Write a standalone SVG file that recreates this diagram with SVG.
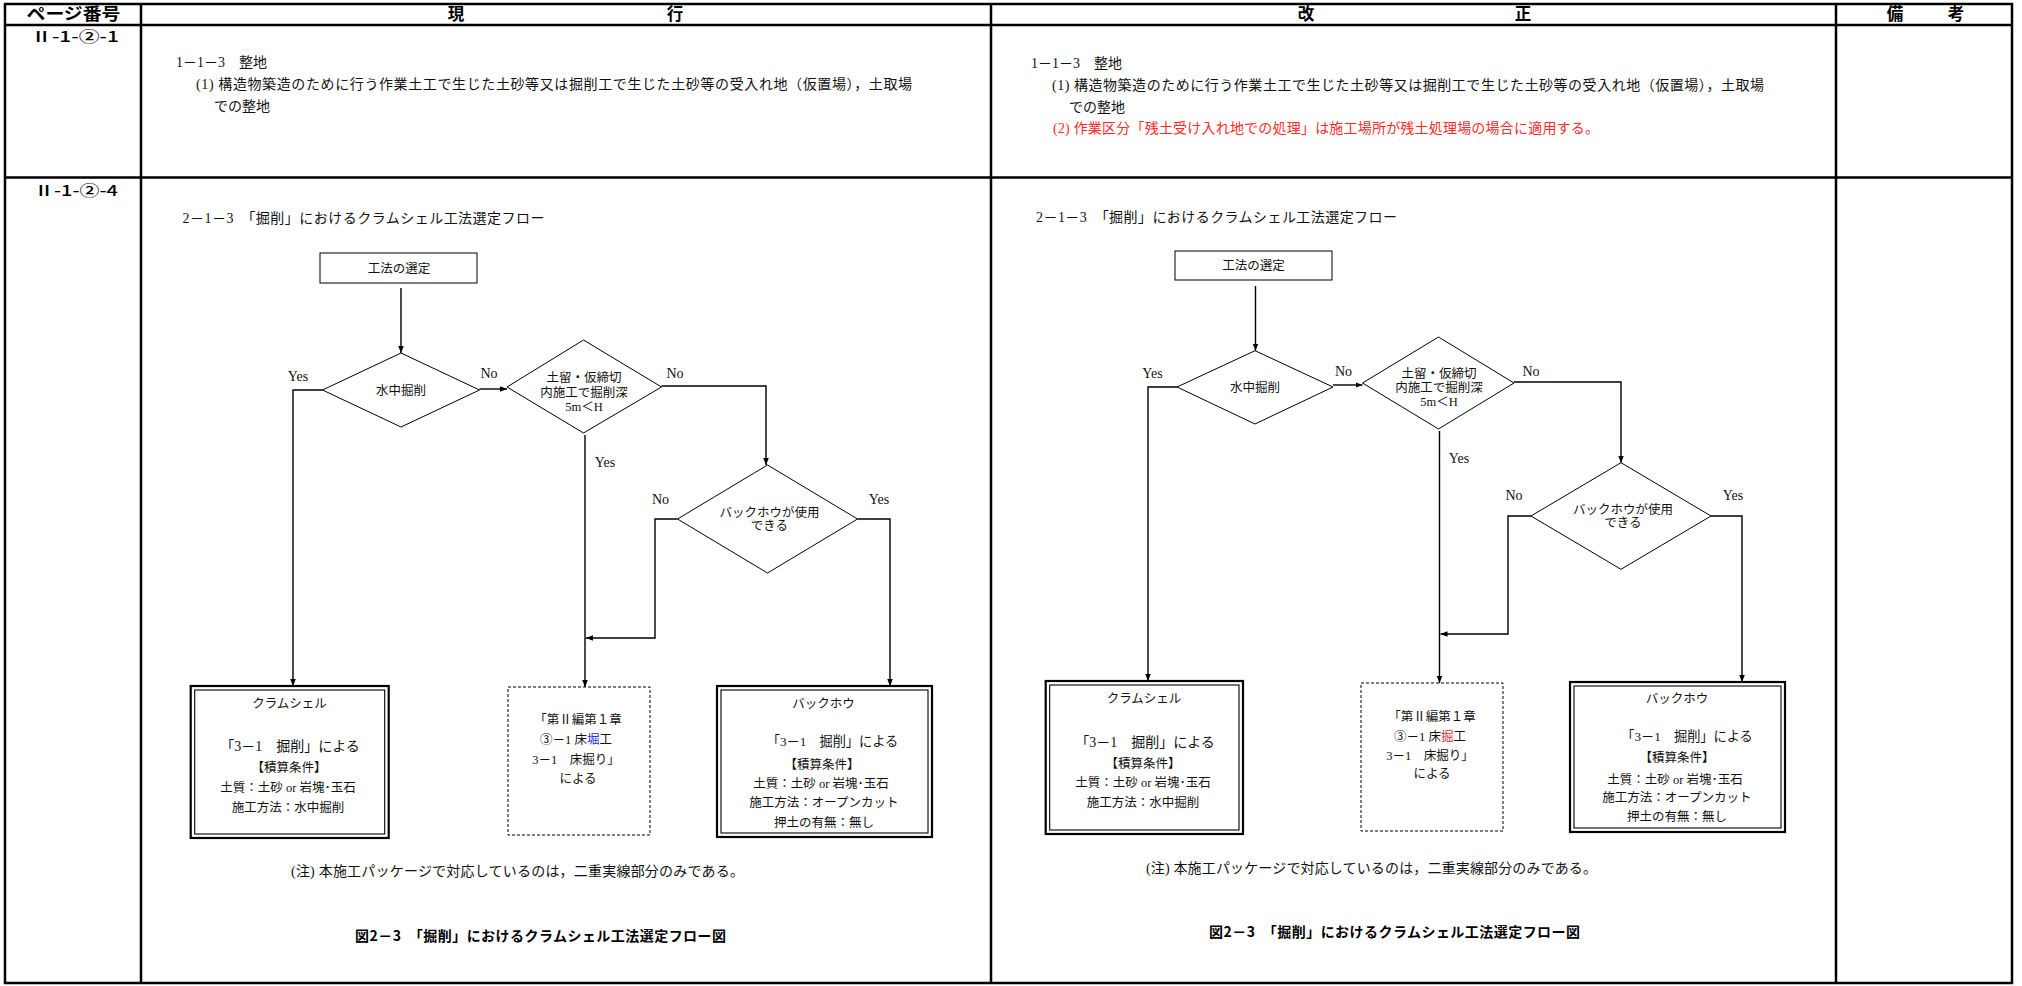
<svg xmlns="http://www.w3.org/2000/svg" width="2022" height="986" viewBox="0 0 2022 986">
<style>
.m{font-family:"Liberation Serif","Noto Sans CJK JP",serif;fill:#111}
.g{font-family:"Noto Sans CJK JP","Liberation Sans",sans-serif;fill:#000}
.hd{font-size:16.5px;font-weight:bold}
.lb{font-size:15px;font-weight:500}
.b{font-size:14px}
.s{font-size:12.5px}
.yn{font-family:"Liberation Serif","Noto Sans CJK JP",serif;font-size:14px;fill:#111}
.c{text-anchor:middle}
.tl{fill:none;stroke:#000;stroke-width:2.5}
.nd{fill:#fff;stroke:#000;stroke-width:1}
.dbo{fill:#fff;stroke:#000;stroke-width:2.2}
.dbi{fill:none;stroke:#000;stroke-width:1.1}
.ds{fill:#fff;stroke:#000;stroke-width:1;stroke-dasharray:3 2}
.cn{fill:none;stroke:#000;stroke-width:1.4}
.red{fill:#ff2a2a}
.blue{fill:#2b2bff}
</style>
<defs>
<marker id="ah" viewBox="0 0 10 10" refX="10" refY="5" markerWidth="7" markerHeight="7" markerUnits="userSpaceOnUse" orient="auto"><path d="M0,1 L10,5 L0,9 z" fill="#000"/></marker>
</defs>
<rect width="2022" height="986" fill="#fff"/>

<g id="table">
<rect class="tl" x="5" y="4" width="2007" height="979"/>
<line class="tl" x1="5" y1="25" x2="2012" y2="25"/>
<line class="tl" x1="5" y1="177.5" x2="2012" y2="177.5"/>
<line class="tl" x1="141" y1="4" x2="141" y2="983"/>
<line class="tl" x1="991" y1="4" x2="991" y2="983"/>
<line class="tl" x1="1836" y1="4" x2="1836" y2="983"/>
</g>

<g id="header">
<text class="g hd c" x="73.5" y="19.5" textLength="94" lengthAdjust="spacingAndGlyphs">ページ番号</text>
<text class="g hd c" y="19.5"><tspan x="456">現</tspan><tspan x="675">行</tspan></text>
<text class="g hd c" y="19.5"><tspan x="1306">改</tspan><tspan x="1523">正</tspan></text>
<text class="g hd c" y="19.5"><tspan x="1895">備</tspan><tspan x="1956">考</tspan></text>
</g>

<g id="row-labels">
<text class="g lb c" x="75" y="42" textLength="88" lengthAdjust="spacingAndGlyphs">Ⅱ-1-②-1</text>
<text class="g lb c" x="76" y="196" textLength="84" lengthAdjust="spacingAndGlyphs">Ⅱ-1-②-4</text>
</g>

<g id="row1-current">
<text class="m b" x="176" y="67">1－1－3　整地</text>
<text class="m b" x="196" y="89" textLength="716" lengthAdjust="spacing">(1) 構造物築造のために行う作業土工で生じた土砂等又は掘削工で生じた土砂等の受入れ地（仮置場），土取場</text>
<text class="m b" x="214" y="111">での整地</text>
</g>

<g id="row1-revised">
<text class="m b" x="1031" y="68">1－1－3　整地</text>
<text class="m b" x="1052" y="90" textLength="712" lengthAdjust="spacing">(1) 構造物築造のために行う作業土工で生じた土砂等又は掘削工で生じた土砂等の受入れ地（仮置場），土取場</text>
<text class="m b" x="1069" y="112">での整地</text>
<text class="m b red" x="1053" y="133" textLength="546" lengthAdjust="spacing">(2) 作業区分「残土受け入れ地での処理」は施工場所が残土処理場の場合に適用する。</text>
</g>

<!-- LEFT FLOW (現行) -->
<g id="L-title"><text class="m b" x="182.5" y="223" textLength="362" lengthAdjust="spacing">2－1－3　「掘削」におけるクラムシェル工法選定フロー</text></g>

<g id="L-start">
<rect class="nd" x="320" y="253" width="157" height="30"/>
<text class="m s c" x="399" y="272.5">工法の選定</text>
</g>
<g id="L-d1">
<polygon class="nd" points="322.5,390 401,353 479.5,390 401,427"/>
<text class="m s c" x="401" y="395">水中掘削</text>
</g>
<g id="L-d2">
<polygon class="nd" points="507,387 583.5,340 661.5,387 583.5,433"/>
<text class="m s c" x="584" y="381.5">土留・仮締切</text>
<text class="m s c" x="584" y="396.5">内施工で掘削深</text>
<text class="m s c" x="584" y="410.5">5m＜H</text>
</g>
<g id="L-d3">
<polygon class="nd" points="677.5,519 767.5,465 857.5,519 767.5,573"/>
<text class="m s c" x="769.5" y="517">バックホウが使用</text>
<text class="m s c" x="769.5" y="529.5">できる</text>
</g>
<g id="L-clamshell">
<rect class="dbo" x="190.7" y="686" width="198" height="152"/>
<rect class="dbi" x="194.7" y="690" width="190" height="144"/>
<text class="m s c" x="289.5" y="707.5">クラムシェル</text>
<text class="m c" x="290" y="751" font-size="14">「3－1　掘削」による</text>
<text class="m s c" x="289" y="771.5">【積算条件】</text>
<text class="m s c" x="288" y="791.5">土質：土砂 or 岩塊･玉石</text>
<text class="m s c" x="288" y="811.5">施工方法：水中掘削</text>
</g>
<g id="L-tokobori">
<rect class="ds" x="508" y="687" width="142" height="148"/>
<text class="m s c" x="578" y="723.5">「第Ⅱ編第１章</text>
<text class="m s c" x="576" y="743.5">③－1 床<tspan class="blue">堀</tspan>工</text>
<text class="m s c" x="576" y="763.5">3－1　床掘り」</text>
<text class="m s c" x="578" y="782.5">による</text>
</g>
<g id="L-backhoe">
<rect class="dbo" x="717" y="686" width="215" height="151"/>
<rect class="dbi" x="721" y="690" width="207" height="143"/>
<text class="m s c" x="823.5" y="707.5">バックホウ</text>
<text class="m c" x="832.5" y="745.5" font-size="13.2">「3－1　掘削」による</text>
<text class="m s c" x="822" y="768.5">【積算条件】</text>
<text class="m s c" x="821" y="787.5">土質：土砂 or 岩塊･玉石</text>
<text class="m s c" x="824" y="806.5">施工方法：オープンカット</text>
<text class="m s c" x="824" y="826.5">押土の有無：無し</text>
</g>
<g id="L-note">
<text class="m b" x="291" y="876" textLength="453" lengthAdjust="spacing">(注) 本施工パッケージで対応しているのは，二重実線部分のみである。</text>
<text class="g b c" x="540.5" y="941" font-weight="bold" textLength="371" lengthAdjust="spacing">図2－3　「掘削」におけるクラムシェル工法選定フロー図</text>
</g>

<!-- RIGHT FLOW (改正) -->
<g id="R-title"><text class="m b" x="1036" y="222" textLength="361" lengthAdjust="spacing">2－1－3　「掘削」におけるクラムシェル工法選定フロー</text></g>

<g id="R-start">
<rect class="nd" x="1175" y="251" width="157" height="29"/>
<text class="m s c" x="1253.5" y="270">工法の選定</text>
</g>
<g id="R-d1">
<polygon class="nd" points="1177,387 1255,350.7 1333,387 1255,424"/>
<text class="m s c" x="1255" y="391.5">水中掘削</text>
</g>
<g id="R-d2">
<polygon class="nd" points="1362.5,383 1438.5,337 1514,383 1438.5,429"/>
<text class="m s c" x="1439" y="377.5">土留・仮締切</text>
<text class="m s c" x="1439" y="391.5">内施工で掘削深</text>
<text class="m s c" x="1439" y="406">5m＜H</text>
</g>
<g id="R-d3">
<polygon class="nd" points="1531,516 1621,462.7 1711,516 1621,569.3"/>
<text class="m s c" x="1623" y="513.5">バックホウが使用</text>
<text class="m s c" x="1623" y="527">できる</text>
</g>
<g id="R-clamshell">
<rect class="dbo" x="1045.7" y="681" width="197.3" height="153"/>
<rect class="dbi" x="1049.7" y="685" width="189.3" height="145"/>
<text class="m s c" x="1144" y="702.5">クラムシェル</text>
<text class="m c" x="1145" y="746.5" font-size="14">「3－1　掘削」による</text>
<text class="m s c" x="1143" y="767.5">【積算条件】</text>
<text class="m s c" x="1143" y="787">土質：土砂 or 岩塊･玉石</text>
<text class="m s c" x="1143" y="807">施工方法：水中掘削</text>
</g>
<g id="R-tokobori">
<rect class="ds" x="1361" y="683" width="142" height="148"/>
<text class="m s c" x="1432" y="720.5">「第Ⅱ編第１章</text>
<text class="m s c" x="1430" y="741">③－1 床<tspan class="red">掘</tspan>工</text>
<text class="m s c" x="1430" y="760">3－1　床掘り」</text>
<text class="m s c" x="1432" y="777.5">による</text>
</g>
<g id="R-backhoe">
<rect class="dbo" x="1570" y="682" width="215" height="150"/>
<rect class="dbi" x="1574" y="686" width="207" height="142"/>
<text class="m s c" x="1677" y="702.5">バックホウ</text>
<text class="m c" x="1687" y="741" font-size="13.2">「3－1　掘削」による</text>
<text class="m s c" x="1677" y="761.5">【積算条件】</text>
<text class="m s c" x="1675" y="783.5">土質：土砂 or 岩塊･玉石</text>
<text class="m s c" x="1677" y="801.5">施工方法：オープンカット</text>
<text class="m s c" x="1677" y="821">押土の有無：無し</text>
</g>
<g id="R-note">
<text class="m b" x="1146" y="873" textLength="451" lengthAdjust="spacing">(注) 本施工パッケージで対応しているのは，二重実線部分のみである。</text>
<text class="g b c" x="1394.5" y="937" font-weight="bold" textLength="371" lengthAdjust="spacing">図2－3　「掘削」におけるクラムシェル工法選定フロー図</text>
</g>

<g id="connectors">
<path class="cn" d="M401,288 V353" marker-end="url(#ah)"/>
<path class="cn" d="M322.5,390 H293 V686" marker-end="url(#ah)"/>
<path class="cn" d="M479.5,389 H507" marker-end="url(#ah)"/>
<path class="cn" d="M661.5,386 H766 V465" marker-end="url(#ah)"/>
<path class="cn" d="M585,435 V687" marker-end="url(#ah)"/>
<path class="cn" d="M677.5,519 H655 V638 H586" marker-end="url(#ah)"/>
<path class="cn" d="M857.5,519 H890 V686" marker-end="url(#ah)"/>

<path class="cn" d="M1255.5,286 V350.7" marker-end="url(#ah)"/>
<path class="cn" d="M1177,387 H1148 V681" marker-end="url(#ah)"/>
<path class="cn" d="M1333,385 H1362.5" marker-end="url(#ah)"/>
<path class="cn" d="M1514,382 H1621 V462.7" marker-end="url(#ah)"/>
<path class="cn" d="M1439.5,431 V683" marker-end="url(#ah)"/>
<path class="cn" d="M1531,516 H1508 V634 H1440.5" marker-end="url(#ah)"/>
<path class="cn" d="M1711,516 H1742 V682" marker-end="url(#ah)"/>
</g>

<g id="labels">
<text class="yn c" x="298" y="381">Yes</text>
<text class="yn c" x="489" y="378">No</text>
<text class="yn c" x="675" y="378">No</text>
<text class="yn c" x="605" y="467">Yes</text>
<text class="yn c" x="660.5" y="504">No</text>
<text class="yn c" x="879" y="504">Yes</text>

<text class="yn c" x="1152.5" y="378">Yes</text>
<text class="yn c" x="1343.5" y="376">No</text>
<text class="yn c" x="1531" y="376">No</text>
<text class="yn c" x="1459" y="463">Yes</text>
<text class="yn c" x="1514" y="500">No</text>
<text class="yn c" x="1733" y="500">Yes</text>
</g>
</svg>
